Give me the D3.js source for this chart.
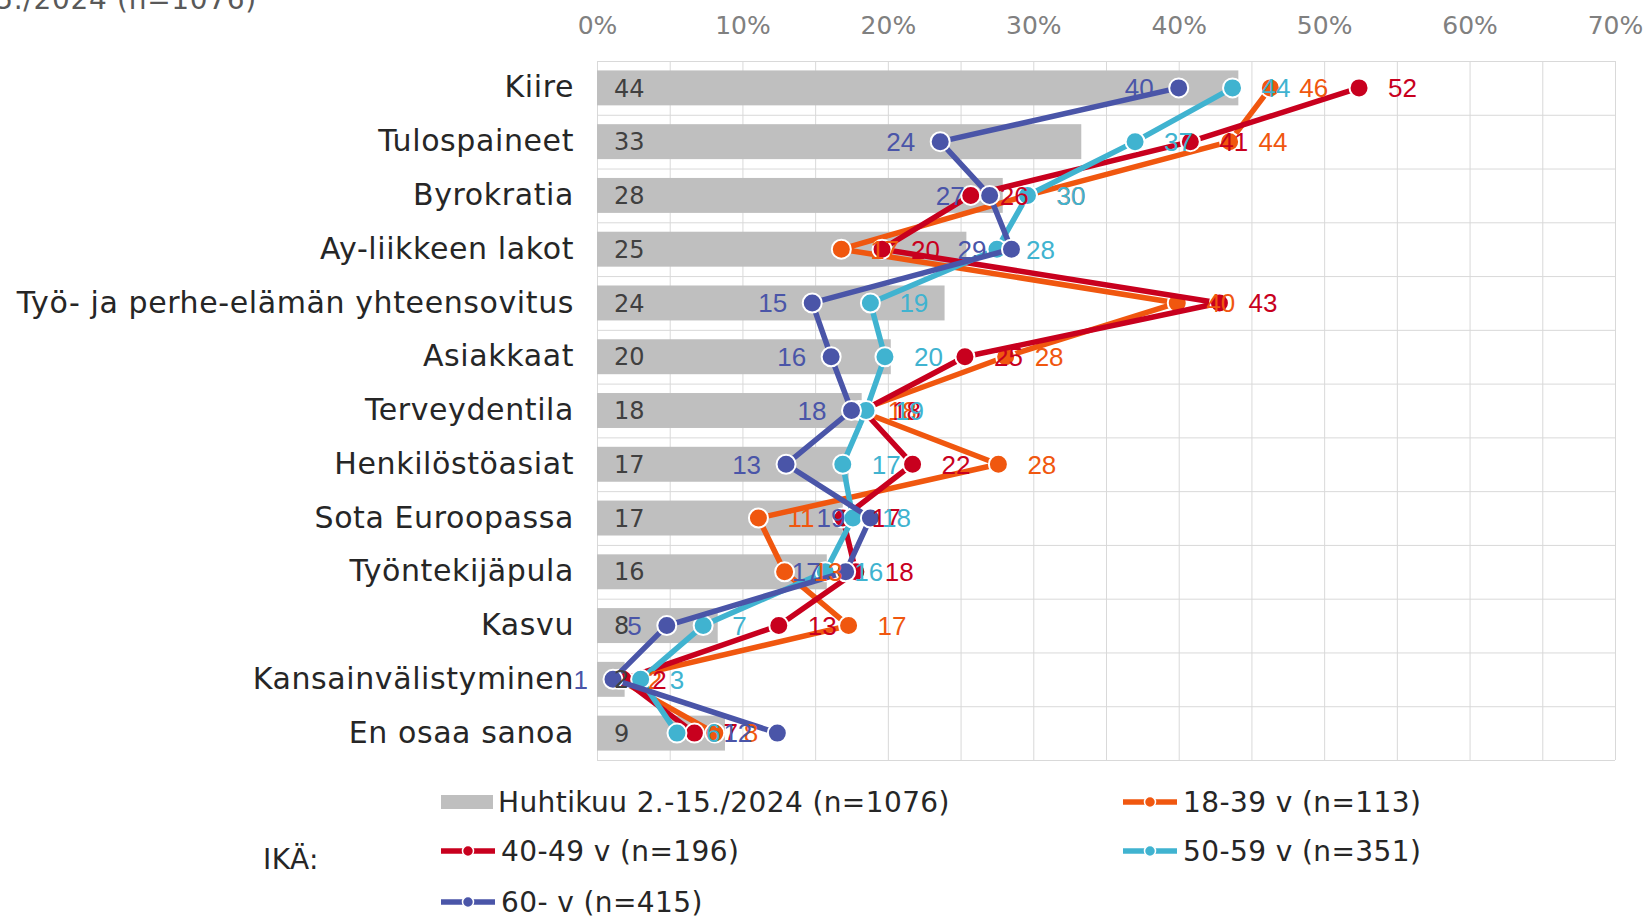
<!DOCTYPE html>
<html>
<head>
<meta charset="utf-8">
<script src="https://cdn.jsdelivr.net/npm/d3@7"></script>
<style>
  body { margin: 0; background: #fff; }
  svg { display: block; }
</style>
</head>
<body>
<div id="app"></div>
<script>
const width = 1650
const height = 917
const margin = { top: 61, right: 35, bottom: 157, left: 597 }

const categories = [
    "Kiire", "Tulospaineet", "Byrokratia", "Ay-liikkeen lakot",
    "Työ- ja perhe-elämän yhteensovitus", "Asiakkaat", "Terveydentila",
    "Henkilöstöasiat", "Sota Euroopassa", "Työntekijäpula", "Kasvu",
    "Kansainvälistyminen", "En osaa sanoa"
]
// Huhtikuu 2.-15./2024 (n=1076), bars
const total = [44.1, 33.3, 27.9, 25.4, 23.9, 20.2, 18.2, 17.3, 16.9, 15.8, 8.3, 1.9, 8.8]
// age groups, lines
const age18to39 = [46.3, 43.5, 29.6, 16.8, 39.9, 28.1, 18.0, 27.6, 11.1, 12.9, 17.3, 1.5, 8.1]
const age40to49 = [52.4, 40.8, 25.7, 19.6, 42.8, 25.3, 18.3, 21.7, 16.9, 17.8, 12.5, 1.8, 6.7]
const age50to59 = [43.7, 37.0, 29.6, 27.5, 18.8, 19.8, 18.5, 16.9, 17.6, 15.7, 7.3, 3.0, 5.5]
const age60plus = [40.0, 23.6, 27.0, 28.5, 14.8, 16.1, 17.5, 13.0, 18.8, 17.1, 4.8, 1.1, 12.4]
const xTicks = [0, 10, 20, 30, 40, 50, 60, 70]

const series = [
    { name: "18-39 v (n=113)", values: age18to39, color: "#F0570F", side: "right" },
    { name: "40-49 v (n=196)", values: age40to49, color: "#C8001E", side: "right" },
    { name: "50-59 v (n=351)", values: age50to59, color: "#40B3D0", side: "right" },
    { name: "60- v (n=415)", values: age60plus, color: "#4A55A8", side: "left" }
]

const x = d3.scaleLinear().domain([0, 70]).range([margin.left, width - margin.right])
const y = d3.scaleBand().domain(categories).range([margin.top, height - margin.bottom]).padding(0)

const svg = d3.select("#app").append("svg")
    .attr("width", width)
    .attr("height", height)

const verdana = "'DejaVu Sans', Verdana, sans-serif"
const arial = "'Liberation Sans', Arial, sans-serif"

// clipped title at the very top
svg.append("text")
    .attr("x", 257).attr("y", 9)
    .attr("text-anchor", "end")
    .attr("font-family", verdana).attr("font-size", 28)
    .attr("letter-spacing", 0.7)
    .attr("fill", "#595959")
    .text("Huhtikuu 2.-15./2024 (n=1076)")

// grid
const grid = svg.append("g").attr("stroke", "#D9D9D9").attr("stroke-width", 1)
grid.selectAll("line.v")
    .data(d3.range(0, 71, 5))
    .join("line")
    .attr("x1", d => x(d) + 0.5).attr("x2", d => x(d) + 0.5)
    .attr("y1", margin.top).attr("y2", height - margin.bottom)
grid.selectAll("line.h")
    .data(d3.range(categories.length + 1))
    .join("line")
    .attr("x1", margin.left).attr("x2", width - margin.right)
    .attr("y1", i => margin.top + i * y.step() + 0.5)
    .attr("y2", i => margin.top + i * y.step() + 0.5)

// top axis
const xAxis = g => g
    .attr("transform", `translate(0, ${margin.top})`)
    .call(d3.axisTop(x).tickValues(xTicks).tickFormat(d => d + "%").tickSize(0).tickPadding(27))
    .call(g => g.select(".domain").remove())
    .call(g => g.selectAll("text")
        .attr("font-family", verdana).attr("font-size", 25).attr("fill", "#808080"))
svg.append("g").call(xAxis)

// category labels
const yAxis = g => g
    .attr("transform", `translate(${margin.left}, 0)`)
    .call(d3.axisLeft(y).tickSize(0).tickPadding(23))
    .call(g => g.select(".domain").remove())
    .call(g => g.selectAll("text")
        .attr("font-family", verdana).attr("font-size", 30)
        .attr("letter-spacing", 0.6).attr("fill", "#262626"))
svg.append("g").call(yAxis)

// bars
const barH = y.bandwidth() * 0.65
svg.append("g").attr("fill", "#BFBFBF")
    .selectAll("rect")
    .data(total)
    .join("rect")
    .attr("x", x(0))
    .attr("y", (d, i) => y(categories[i]) + (y.bandwidth() - barH) / 2)
    .attr("width", d => x(d) - x(0))
    .attr("height", barH)

const cy = i => y(categories[i]) + y.bandwidth() / 2

// lines + markers
const line = d3.line()
    .x(d => x(d))
    .y((d, i) => cy(i))

for (const s of series) {
    const g = svg.append("g")
    g.append("path")
        .attr("d", line(s.values))
        .attr("fill", "none")
        .attr("stroke", s.color)
        .attr("stroke-width", 5.5)
        .attr("stroke-linejoin", "round")
    g.selectAll("circle")
        .data(s.values)
        .join("circle")
        .attr("cx", d => x(d))
        .attr("cy", (d, i) => cy(i))
        .attr("r", 9.5)
        .attr("fill", s.color)
        .attr("stroke", "#fff")
        .attr("stroke-width", 2)
}

// bar labels
svg.append("g")
    .selectAll("text")
    .data(total)
    .join("text")
    .attr("x", x(0) + 17)
    .attr("y", (d, i) => cy(i))
    .attr("dy", "0.36em")
    .attr("font-family", verdana).attr("font-size", 24)
    .attr("fill", "#404040")
    .text(d => Math.round(d))

// data labels
for (const s of series) {
    svg.append("g")
        .selectAll("text")
        .data(s.values)
        .join("text")
        .attr("x", d => s.side === "right" ? x(d) + 29 : x(d) - 25)
        .attr("y", (d, i) => cy(i))
        .attr("dy", "0.36em")
        .attr("text-anchor", s.side === "right" ? "start" : "end")
        .attr("font-family", arial).attr("font-size", 26)
        .attr("fill", s.color)
        .text(d => Math.round(d))
}

// legend
const legend = svg.append("g").attr("font-family", verdana).attr("font-size", 28)
    .attr("letter-spacing", 0.4).attr("fill", "#262626")
legend.append("rect").attr("x", 441).attr("y", 795).attr("width", 52).attr("height", 14).attr("fill", "#BFBFBF")
legend.append("text").attr("x", 498).attr("y", 802).attr("dy", "0.36em").text("Huhtikuu 2.-15./2024 (n=1076)")
legend.append("text").attr("x", 263).attr("y", 859).attr("dy", "0.36em").text("IKÄ:")

const legendPos = [
    { x: 1123, y: 802 },
    { x: 441, y: 851 },
    { x: 1123, y: 851 },
    { x: 441, y: 902 }
]
series.forEach((s, i) => {
    const p = legendPos[i]
    legend.append("line")
        .attr("x1", p.x).attr("x2", p.x + 54)
        .attr("y1", p.y).attr("y2", p.y)
        .attr("stroke", s.color).attr("stroke-width", 5.5)
    legend.append("circle")
        .attr("cx", p.x + 27).attr("cy", p.y).attr("r", 5.5)
        .attr("fill", s.color).attr("stroke", "#fff").attr("stroke-width", 1.5)
    legend.append("text")
        .attr("x", p.x + 60).attr("y", p.y).attr("dy", "0.36em")
        .text(s.name)
})
</script>
</body>
</html>
